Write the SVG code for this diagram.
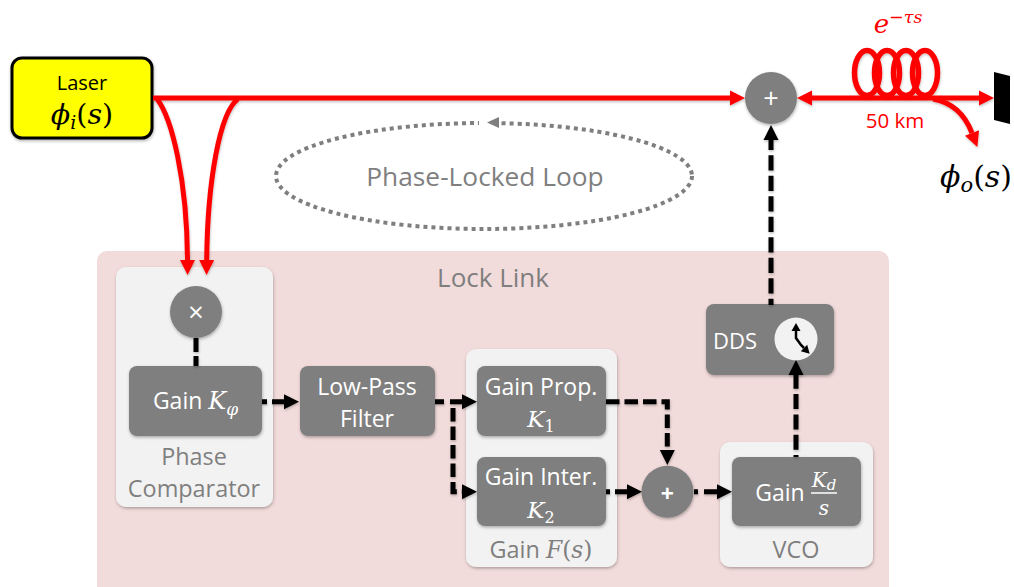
<svg xmlns="http://www.w3.org/2000/svg" width="1014" height="587" viewBox="0 0 1014 587">
<style>
text{font-family:"Open Sans","Noto Sans",sans-serif;text-anchor:middle}
.m{font-family:"DejaVu Serif","Liberation Serif",serif;font-style:italic}
.mn{font-family:"DejaVu Serif","Liberation Serif",serif;font-style:normal}
.panel{fill:#f2f2f2;filter:url(#sh)}
.box{fill:#7f7f7f;filter:url(#sh)}
.w{fill:#fff;font-size:23px}
.g{fill:#7f7f7f;font-size:23.400px}
.red{fill:none;stroke:#f00;stroke-width:5}
.dash{fill:none;stroke:#000;stroke-width:5;stroke-dasharray:13.500 5}
</style>
<defs>
<filter id="sh" x="-20%" y="-20%" width="140%" height="140%"><feDropShadow dx="0.5" dy="1.500" stdDeviation="1.500" flood-color="#000" flood-opacity="0.3"/></filter>
<filter id="lsh" filterUnits="userSpaceOnUse" x="0" y="0" width="1014" height="587"><feDropShadow dx="0.5" dy="1.500" stdDeviation="1.200" flood-color="#000" flood-opacity="0.25"/></filter>
<marker id="ar" markerUnits="userSpaceOnUse" markerWidth="17" markerHeight="16" refX="1" refY="8" orient="auto"><path d="M1 0.500L16 8L1 15.500Z" fill="#f00"/></marker>
<marker id="ars" markerUnits="userSpaceOnUse" markerWidth="17" markerHeight="16" refX="1" refY="8" orient="auto-start-reverse"><path d="M1 0.500L16 8L1 15.500Z" fill="#f00"/></marker>
<marker id="ak" markerUnits="userSpaceOnUse" markerWidth="17" markerHeight="16" refX="1" refY="8" orient="auto"><path d="M1 0.500L16 8L1 15.500Z" fill="#000"/></marker>
<marker id="as" markerUnits="userSpaceOnUse" markerWidth="10" markerHeight="10" refX="1" refY="5" orient="auto-start-reverse"><path d="M1 0.500L9 5L1 9.500Z" fill="#000"/></marker>
</defs>

<g id="lock-link"><rect x="97" y="251" width="792" height="350" rx="10" fill="#f2dcdb"/><text x="493" y="287" class="g" style="font-size:26px">Lock Link</text></g>

<g id="phase-comparator"><rect class="panel" x="116" y="267" width="157" height="240" rx="10"/><text x="194" y="465" class="g">Phase</text><text x="194" y="497" class="g">Comparator</text></g>
<g id="gain-f"><rect class="panel" x="466" y="349" width="151" height="218" rx="10"/><text x="541" y="558" class="g">Gain <tspan class="m">F</tspan><tspan class="mn">(</tspan><tspan class="m">s</tspan><tspan class="mn">)</tspan></text></g>
<g id="vco"><rect class="panel" x="720" y="442" width="153" height="125" rx="10"/><text x="796" y="558" class="g">VCO</text></g>

<g id="coil" filter="url(#lsh)" fill="none" stroke="#f00" stroke-width="5.500">
<ellipse cx="867" cy="73" rx="12.500" ry="22.500"/><ellipse cx="887" cy="73" rx="12.500" ry="22.500"/><ellipse cx="906" cy="73" rx="12.500" ry="22.500"/><ellipse cx="925" cy="73" rx="12.500" ry="22.500"/>
</g>
<g id="fibre-labels">
<text x="898" y="33" fill="#f00" style="font-size:26px" class="m">e<tspan dy="-10" style="font-size:17.500px">−τs</tspan></text>
<text x="895" y="128" fill="#f00" style="font-size:20.500px">50 km</text>
</g>
<g id="mirror"><path d="M994 72L1010 76V124L994 120Z" fill="#000"/></g>
<g id="phi-o"><text x="976" y="187" style="font-size:30px" class="m">ϕ<tspan dy="5" style="font-size:21px">o</tspan><tspan dy="-5" class="mn">(</tspan>s<tspan class="mn">)</tspan></text></g>

<g id="laser"><rect x="12" y="58" width="140" height="80" rx="10" fill="#ff0" stroke="#000" stroke-width="3" filter="url(#sh)"/><text x="82" y="90" style="font-size:20px">Laser</text><text x="82" y="124" style="font-size:28.500px" class="m">ϕ<tspan dy="5" style="font-size:19px">i</tspan><tspan dy="-5" class="mn">(</tspan>s<tspan class="mn">)</tspan></text></g>

<g id="sum-top"><circle class="box" cx="771" cy="98" r="26"/><text x="771" y="108" class="w" style="font-size:27px">+</text></g>
<g id="loop"><ellipse cx="484" cy="176" rx="208" ry="53" fill="none" stroke="#7f7f7f" stroke-width="4" stroke-dasharray="4 4"/><path d="M479 118H499V128H479Z" fill="#fff"/><path d="M487 122.500L499 117V128Z" fill="#7f7f7f"/><text x="485" y="186" class="g" style="font-size:26.300px">Phase-Locked Loop</text></g>

<g id="mixer"><circle class="box" cx="196" cy="312" r="26"/><text x="196" y="322" class="w" style="font-size:27px">×</text></g>
<g id="gain-k"><rect class="box" x="129" y="366" width="133" height="70" rx="8"/><text x="195.500" y="409" class="w">Gain <tspan class="m" style="font-size:24px">K</tspan><tspan class="m" dy="6" style="font-size:17px">φ</tspan></text></g>
<g id="lpf"><rect class="box" x="300" y="366" width="135" height="70" rx="8"/><text x="367" y="395" class="w">Low-Pass</text><text x="367" y="427" class="w">Filter</text></g>
<g id="gain-prop"><rect class="box" x="477" y="366" width="129" height="70" rx="8"/><text x="541" y="395" class="w">Gain Prop.</text><text x="541" y="427" class="w"><tspan class="m">K</tspan><tspan class="mn" dy="5" style="font-size:16px">1</tspan></text></g>
<g id="gain-inter"><rect class="box" x="477" y="457" width="129" height="69" rx="8"/><text x="541" y="485" class="w">Gain Inter.</text><text x="541" y="518" class="w"><tspan class="m">K</tspan><tspan class="mn" dy="5" style="font-size:16px">2</tspan></text></g>
<g id="sum"><circle class="box" cx="667.500" cy="491.700" r="26"/><text x="667.300" y="502" class="w" style="font-size:23px;font-weight:700">+</text></g>
<g id="gain-kd"><rect class="box" x="732" y="457" width="129" height="69" rx="8"/><text x="780" y="501" class="w">Gain</text><text x="824" y="487" class="w m" style="font-size:20px;font-style:italic">K<tspan dy="3" style="font-size:15px">d</tspan></text><path d="M811 493H837" stroke="#fff" stroke-width="1.500"/><text x="824" y="515" class="w m" style="font-size:20px">s</text></g>
<g id="dds"><rect class="box" x="706" y="304" width="128" height="71" rx="8"/><text x="735" y="349" class="w" style="font-size:22px">DDS</text><circle cx="796" cy="339" r="21.500" fill="#f2f2f2"/><path d="M796 331V338L801 345L804 348" fill="none" stroke="#000" stroke-width="2.500" marker-start="url(#as)" marker-end="url(#as)"/></g>

<g id="connectors" filter="url(#lsh)">
<path class="red" d="M153 98H730" marker-end="url(#ar)"/>
<path class="red" d="M157 99C172 118 187 180 187.500 260" marker-end="url(#ar)"/>
<path class="red" d="M238 99C220 112 207.500 180 206.700 260" marker-end="url(#ar)"/>
<path class="red" d="M812 98H979" marker-start="url(#ars)" marker-end="url(#ar)"/>
<path class="red" d="M933 99C950 102 964 112 972 133" marker-end="url(#ar)"/>
<path class="dash" d="M771 305V140" stroke-dashoffset="9" style="stroke-dasharray:15.300 5.200" marker-end="url(#ak)"/>
<path class="dash" d="M196 338V366" style="stroke-dasharray:14 4"/>
<path class="dash" d="M262 401.700H284" style="stroke-dasharray:5 5 14 0" marker-end="url(#ak)"/>
<path class="dash" d="M435 401.700H462" style="stroke-dasharray:9 6 13 0" marker-end="url(#ak)"/>
<path class="dash" d="M453 408V491.700H462" marker-end="url(#ak)"/>
<path class="dash" d="M606 401.700H667.300V450" marker-end="url(#ak)"/>
<path class="dash" d="M606 491.700H627" style="stroke-dasharray:4 5 13 0" marker-end="url(#ak)"/>
<path class="dash" d="M694 491.700H717" style="stroke-dasharray:4 6 14 0" marker-end="url(#ak)"/>
<path class="dash" d="M796 457V375" stroke-dashoffset="13" style="stroke-dasharray:15 5.300" marker-end="url(#ak)"/>
</g>
</svg>
